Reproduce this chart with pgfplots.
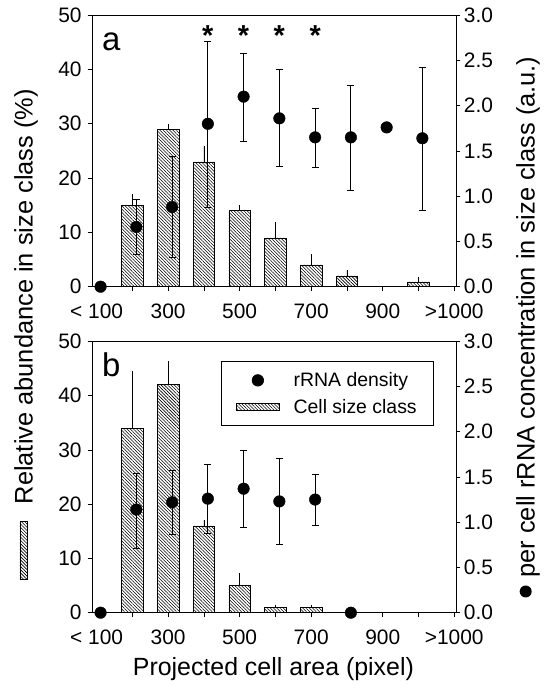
\documentclass[border=0pt]{standalone}
\usepackage{fontspec}
\setmainfont{Liberation Sans}
\usepackage{pgfplots}
\usepackage{pgfplotstable}
\pgfplotsset{compat=1.18}
\usetikzlibrary{patterns,patterns.meta}

\pgfplotstableread{
x y e
200 15 2
300 29 1
400 23 3
500 14 1
600 9 3
700 4 2
800 2 1
1000 0.9 0.9
}\barsA
\pgfplotstableread{
x y ep em
111 0 0 0
211 0.66 0.31 0.30
311 0.88 0.56 0.56
411 1.80 0.91 0.92
511 2.10 0.48 0.49
611 1.86 0.54 0.53
711 1.65 0.32 0.33
811 1.65 0.57 0.59
911 1.76 0 0
1011 1.64 0.78 0.80
}\dotsA
\pgfplotstableread{
x y e
200 34 10.6
300 42 4.3
400 16 1.0
500 5 2.3
600 1 0.4
700 1 0.4
}\barsB
\pgfplotstableread{
x y ep em
111 0 0 0
211 1.14 0.40 0.43
311 1.22 0.35 0.35
411 1.26 0.38 0.38
511 1.37 0.42 0.43
611 1.23 0.47 0.47
711 1.25 0.28 0.29
811 0 0 0
}\dotsB

\tikzset{hatch/.style={pattern={Lines[angle=-45, distance=2.3bp, line width=0.55bp]}, pattern color=black}}

\pgfplotsset{
  common/.style={width=364bp, height=271.5bp, scale only axis,
    xmin=87, xmax=1105, tick align=outside, major tick length=4.4bp,
    tick style={black, line width=0.6bp}, axis line style={line width=0.6bp},
    tick label style={font=\fontsize{21}{25}\selectfont},
    /pgf/number format/assume math mode=true},
  leftax/.style={common, ymin=0, ymax=50,
    xtick={100,200,...,1100},
    xticklabels={{< 100},,300,,500,,700,,900,,{>1000}},
    ytick={0,10,...,50}, ytick pos=left, xtick pos=bottom,
    xticklabel style={yshift=-9bp}, yticklabel style={xshift=-2.5bp}},
  rightax/.style={common, ymin=0, ymax=3, axis x line=none, axis y line*=right,
    ytick={0,0.5,...,3}, clip=false,
    yticklabel style={/pgf/number format/.cd, fixed, fixed zerofill, precision=1}},
  barstyle/.style={ybar, bar width=60, draw=black, line width=0.6bp, hatch,
    error bars/.cd, y dir=plus, y explicit, error mark=none,
    error bar style={line width=0.8bp, black}},
  dotstyle/.style={only marks, mark=*, mark size=5.8bp, black,
    error bars/.cd, y dir=both, y explicit, error mark=-,
    error mark options={rotate=90, black, mark size=3.5bp, line width=0.8bp},
    error bar style={line width=0.8bp, black}},
}

\begin{document}
\begin{tikzpicture}
\useasboundingbox (0,0) rectangle (545bp,689bp);
% ---------- panel a ----------
\begin{axis}[leftax, at={(92bp,402.3bp)}, anchor=south west]
  \addplot[barstyle] table[x=x, y=y, y error=e] {\barsA};
  \node[anchor=base west, inner sep=0, font=\fontsize{33}{36}\selectfont] at (rel axis cs:0.0275,0.871) {a};
\end{axis}
\begin{axis}[rightax, at={(92bp,402.3bp)}, anchor=south west]
  \addplot[dotstyle] table[x=x, y=y, y error plus=ep, y error minus=em] {\dotsA};
  \addplot[only marks, mark=none, nodes near coords={*},
    every node near coord/.style={anchor=base, inner sep=0, font=\bfseries\fontsize{29}{30}\selectfont}]
    coordinates {(411,2.665) (511,2.665) (611,2.665) (711,2.665)};
\end{axis}
% ---------- panel b ----------
\begin{axis}[leftax, at={(92bp,76.3bp)}, anchor=south west]
  \addplot[barstyle] table[x=x, y=y, y error=e] {\barsB};
  \node[anchor=base west, inner sep=0, font=\fontsize{33}{36}\selectfont] at (rel axis cs:0.0275,0.871) {b};
\end{axis}
\begin{axis}[rightax, at={(92bp,76.3bp)}, anchor=south west,
    legend style={at={(0.9396,0.926)}, anchor=north east, draw=black, line width=0.6bp,
      font=\fontsize{19.5}{22}\selectfont, inner xsep=15bp, inner ysep=9bp,
      row sep=7bp, /tikz/every odd column/.append style={column sep=12bp}},
    legend cell align=left]
  \addlegendimage{legend image code/.code={\fill[black] (21.5bp,0bp) circle (5.8bp);}}
  \addlegendentry{rRNA density}
  \addlegendimage{legend image code/.code={\draw[hatch, line width=0.6bp] (0bp,-3.8bp) rectangle (43bp,3.8bp);}}
  \addlegendentry{Cell size class}
  \addplot[forget plot, dotstyle] table[x=x, y=y, y error plus=ep, y error minus=em] {\dotsB};
\end{axis}
% ---------- axis labels ----------
\node[anchor=base, font=\fontsize{25}{28}\selectfont] at (273.4bp,14bp) {Projected cell area (pixel)};
\node[rotate=90, anchor=center, font=\fontsize{25.5}{28}\selectfont] at (26bp,354.5bp)
  {\tikz[baseline=-0.35em]\draw[hatch, line width=0.6bp] (0,-3.7bp) rectangle (58bp,3.7bp);\hspace{17bp}Relative abundance in size class (\%)};
\node[rotate=90, anchor=center, font=\fontsize{25.5}{28}\selectfont] at (528bp,362bp)
  {\tikz[baseline=-0.35em]\fill (0,0) circle (6bp);\hspace{8bp}per cell rRNA concentration in size class (a.u.)};
\end{tikzpicture}
\end{document}
